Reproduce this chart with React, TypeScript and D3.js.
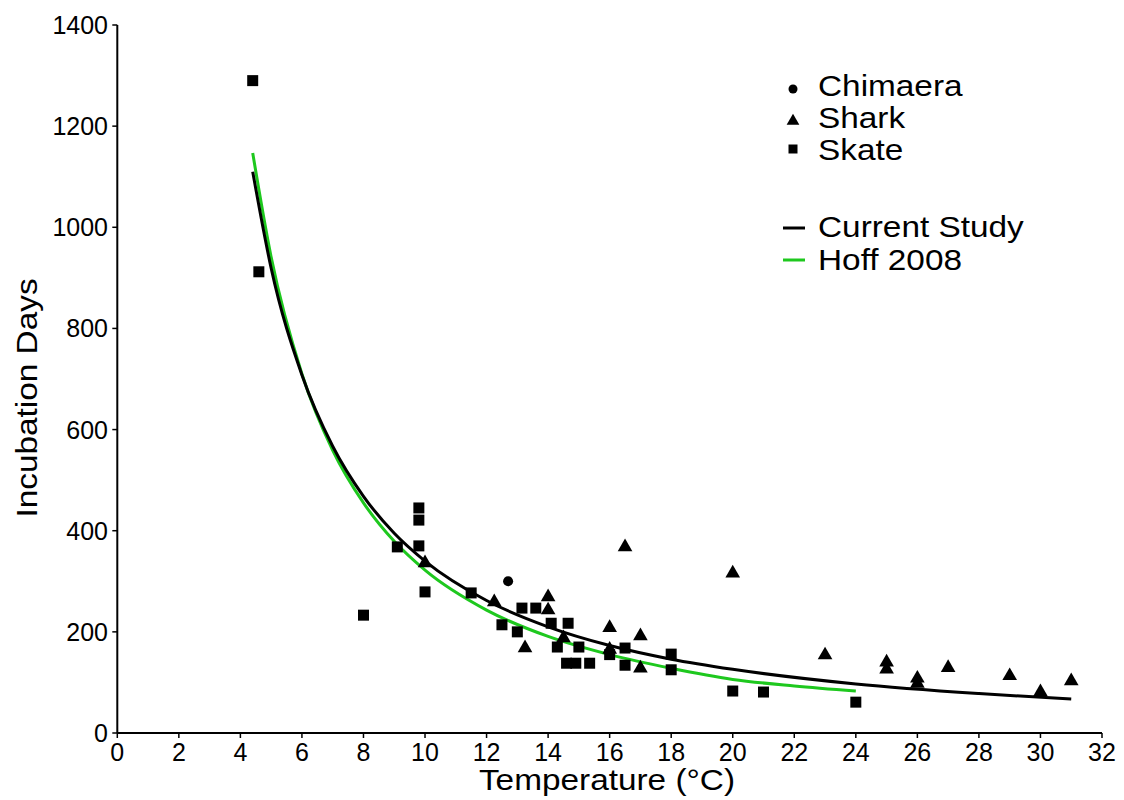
import React from "react";
import * as d3 from "d3";

// ---- data ----
const xTicks = [0, 2, 4, 6, 8, 10, 12, 14, 16, 18, 20, 22, 24, 26, 28, 30, 32];
const yTicks = [0, 200, 400, 600, 800, 1000, 1200, 1400];

const skateT = [4.4, 4.6, 8.0, 9.1, 9.8, 9.8, 9.8, 10.0, 11.5, 12.5, 13.0, 13.15, 13.6, 14.1, 14.3, 14.6, 14.65, 14.9, 15.0, 15.35, 16.0, 16.5, 16.5, 18.0, 18.0, 20.0, 21.0, 24.0];
const skateD = [1290, 912, 233, 368, 445, 421, 370, 279, 277, 214, 200, 247, 247, 217, 170, 138, 217, 138, 170, 138, 155, 168, 134, 156, 125, 83, 81, 61];

const sharkT = [10.0, 12.25, 13.25, 14.0, 14.0, 14.5, 16.0, 16.0, 16.5, 17.0, 17.0, 20.0, 23.0, 25.0, 25.0, 26.0, 26.0, 27.0, 29.0, 30.0, 31.0];
const sharkD = [336, 259, 168, 269, 243, 188, 208, 165, 368, 192, 128, 316, 154, 140, 126, 108, 98, 129, 113, 81, 103];

const chimaeraT = [12.7];
const chimaeraD = [300];

const currentT = [4.4, 5, 6, 7, 8, 9, 10, 12, 14, 16, 18, 20, 24, 28, 31];
const currentD = [1110, 919, 708, 567, 468, 395, 340, 262, 210, 173, 146, 126, 97, 78, 67];

const hoffT = [4.4, 5, 6, 7, 8, 9, 10, 12, 14, 16, 18, 20, 22, 24];
const hoffD = [1147, 941, 710, 559, 455, 379, 322, 243, 191, 155, 128, 106, 93, 83];

const legendSpecies = ["Chimaera", "Shark", "Skate"];
const legendLines = ["Current Study", "Hoff 2008"];

const GREEN = "#1ec81e";
const FONT = "'Liberation Sans', Arial, Helvetica, sans-serif";

export default function App() {
  const x = d3.scaleLinear().domain([0, 32]).range([117.3, 1102]);
  const y = d3.scaleLinear().domain([0, 1400]).range([733, 25]);

  const line = d3
    .line<[number, number]>()
    .x((d) => x(d[0]))
    .y((d) => y(d[1]))
    .curve(d3.curveMonotoneX);

  const currentPts = currentT.map((t, i) => [t, currentD[i]] as [number, number]);
  const hoffPts = hoffT.map((t, i) => [t, hoffD[i]] as [number, number]);

  const sq = d3.symbol().type(d3.symbolSquare).size(121)()!;
  const tri = d3.symbol().type(d3.symbolTriangle).size(93)()!;
  const circ = d3.symbol().type(d3.symbolCircle).size(80)()!;

  const sqL = d3.symbol().type(d3.symbolSquare).size(81)()!;
  const triL = d3.symbol().type(d3.symbolTriangle).size(70)()!;
  const circL = d3.symbol().type(d3.symbolCircle).size(64)()!;
  const legendSyms = [circL, triL, sqL];
  const legendSymY = [89, 121, 149];
  const legendTextY = [96, 128, 160];
  const legendLineY = [228, 260];
  const legendLineTextY = [237, 270];
  const legendColors = ["#000", GREEN];

  return (
    <svg
      width={1124}
      height={800}
      style={{ position: "absolute", left: 0, top: 0, background: "#fff" }}
      fontFamily={FONT}
    >
      <rect width={1124} height={800} fill="#fff" />
      {/* axes */}
      <line x1={x(0)} x2={x(0)} y1={y(1400)} y2={y(0)} stroke="#000" strokeWidth={2} />
      <line x1={x(0)} x2={x(32)} y1={y(0)} y2={y(0)} stroke="#000" strokeWidth={2} />
      {yTicks.map((t) => (
        <g key={"y" + t}>
          <line x1={x(0) - 5} x2={x(0)} y1={y(t)} y2={y(t)} stroke="#000" strokeWidth={1.5} />
          <text x={108} y={y(t) + 9} textAnchor="end" fontSize={25} fill="#000">
            {t}
          </text>
        </g>
      ))}
      {xTicks.map((t) => (
        <g key={"x" + t}>
          <line x1={x(t)} x2={x(t)} y1={y(0)} y2={y(0) + 5} stroke="#000" strokeWidth={1.5} />
          <text x={x(t)} y={761} textAnchor="middle" fontSize={25} fill="#000">
            {t}
          </text>
        </g>
      ))}
      <text
        transform="translate(37,398) rotate(-90) scale(1.15,1)"
        textAnchor="middle"
        fontSize={29}
        fill="#000"
      >
        Incubation Days
      </text>
      <text transform="translate(607,790) scale(1.15,1)" textAnchor="middle" fontSize={29} fill="#000">
        Temperature (°C)
      </text>

      {/* curves */}
      <path d={line(hoffPts)!} fill="none" stroke={GREEN} strokeWidth={3} />
      <path d={line(currentPts)!} fill="none" stroke="#000" strokeWidth={3} />

      {/* points */}
      {skateT.map((t, i) => (
        <path key={"s" + i} d={sq} transform={`translate(${x(t)},${y(skateD[i])})`} fill="#000" />
      ))}
      {sharkT.map((t, i) => (
        <path key={"k" + i} d={tri} transform={`translate(${x(t)},${y(sharkD[i])})`} fill="#000" />
      ))}
      {chimaeraT.map((t, i) => (
        <path key={"c" + i} d={circ} transform={`translate(${x(t)},${y(chimaeraD[i])})`} fill="#000" />
      ))}

      {/* legend */}
      {legendSpecies.map((name, i) => (
        <g key={name}>
          <path d={legendSyms[i]} transform={`translate(793,${legendSymY[i]})`} fill="#000" />
          <text transform={`translate(818,${legendTextY[i]}) scale(1.15,1)`} fontSize={29} fill="#000">
            {name}
          </text>
        </g>
      ))}
      {legendLines.map((name, i) => (
        <g key={name}>
          <line x1={783} x2={805} y1={legendLineY[i]} y2={legendLineY[i]} stroke={legendColors[i]} strokeWidth={3} />
          <text transform={`translate(818,${legendLineTextY[i]}) scale(1.15,1)`} fontSize={29} fill="#000">
            {name}
          </text>
        </g>
      ))}
    </svg>
  );
}
